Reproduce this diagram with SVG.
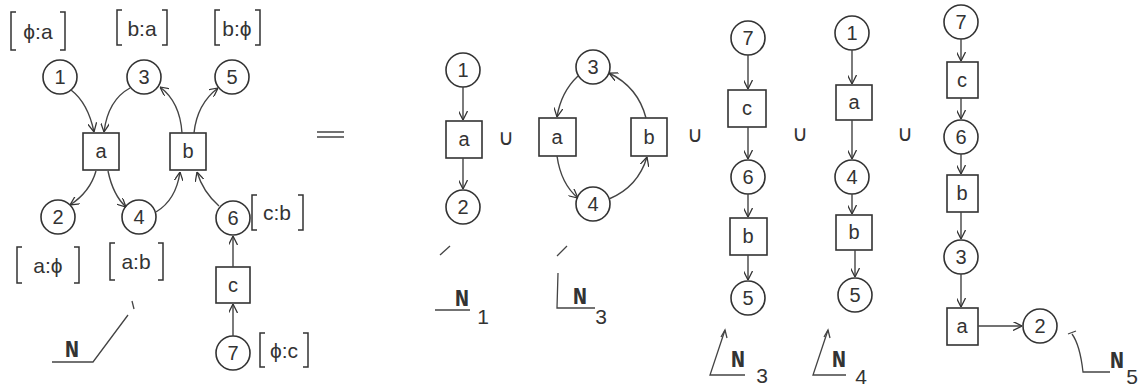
<svg xmlns="http://www.w3.org/2000/svg" width="1144" height="389" viewBox="0 0 1144 389">
<defs>
<marker id="ah" viewBox="0 0 10 10" refX="10" refY="5" markerWidth="9" markerHeight="9" markerUnits="userSpaceOnUse" orient="auto">
<path d="M0,0 L10,5 L0,10" fill="none" stroke="#333" stroke-width="1.4"/>
</marker>
<style>
.pl{fill:none;stroke:#333;stroke-width:1.6}
.tr{fill:none;stroke:#333;stroke-width:1.6}
.e{fill:none;stroke:#444;stroke-width:1.4;marker-end:url(#ah)}
.l{fill:none;stroke:#444;stroke-width:1.3}
.br{fill:none;stroke:#333;stroke-width:1.5}
.t{font-family:"Liberation Sans","DejaVu Sans",sans-serif;font-size:20px;fill:#333;text-anchor:middle;dominant-baseline:central}
.k{font-family:"DejaVu Sans",sans-serif;font-size:22px;fill:#333;text-anchor:middle;dominant-baseline:central}
.n{font-family:"Liberation Mono","DejaVu Sans Mono",monospace;font-weight:bold;font-size:24px;fill:#333;text-anchor:middle}
.s{font-family:"Liberation Sans","DejaVu Sans",sans-serif;font-size:21px;fill:#333;text-anchor:middle}
.u{font-family:"Liberation Sans","DejaVu Sans",sans-serif;font-size:21px;fill:#333;text-anchor:middle;dominant-baseline:central}
</style>
</defs>
<rect width="1144" height="389" fill="#fff"/>

<!-- Left net N -->
<g id="N-p1"><circle class="pl" cx="60" cy="77" r="17"/><text class="t" x="60" y="77">1</text></g>
<g id="N-p3"><circle class="pl" cx="144" cy="77" r="17"/><text class="t" x="144" y="77">3</text></g>
<g id="N-p5"><circle class="pl" cx="232" cy="77" r="17"/><text class="t" x="232" y="77">5</text></g>
<g id="N-ta"><rect class="tr" x="83" y="133" width="36" height="37"/><text class="t" x="101" y="151">a</text></g>
<g id="N-tb"><rect class="tr" x="170" y="133" width="36" height="37"/><text class="t" x="188" y="151">b</text></g>
<g id="N-p2"><circle class="pl" cx="58" cy="217" r="17"/><text class="t" x="58" y="217">2</text></g>
<g id="N-p4"><circle class="pl" cx="139" cy="217" r="17"/><text class="t" x="139" y="217">4</text></g>
<g id="N-p6"><circle class="pl" cx="233" cy="218" r="17"/><text class="t" x="233" y="218">6</text></g>
<g id="N-tc"><rect class="tr" x="216" y="267" width="34" height="36"/><text class="t" x="233" y="285">c</text></g>
<g id="N-p7"><circle class="pl" cx="233" cy="353" r="17"/><text class="t" x="233" y="353">7</text></g>

<g id="N-labels">
<path class="br" d="M16,12 L11,12 L11,50 L16,50 M60,12 L65,12 L65,50 L60,50"/>
<text class="u" x="38" y="31">ϕ:a</text>
<path class="br" d="M122,10 L117,10 L117,45 L122,45 M162,10 L167,10 L167,45 L162,45"/>
<text class="u" x="142" y="28">b:a</text>
<path class="br" d="M220,10 L215,10 L215,45 L220,45 M255,10 L260,10 L260,45 L255,45"/>
<text class="u" x="237" y="28">b:ϕ</text>
<path class="br" d="M22,247 L17,247 L17,283 L22,283 M74,247 L79,247 L79,283 L74,283"/>
<text class="u" x="48" y="265">a:ϕ</text>
<path class="br" d="M115,243 L110,243 L110,280 L115,280 M158,243 L163,243 L163,280 L158,280"/>
<text class="u" x="136" y="261">a:b</text>
<path class="br" d="M257,195 L252,195 L252,230 L257,230 M298,195 L303,195 L303,230 L298,230"/>
<text class="u" x="277" y="212">c:b</text>
<path class="br" d="M265,333 L260,333 L260,367 L265,367 M303,333 L308,333 L308,367 L303,367"/>
<text class="u" x="284" y="350">ϕ:c</text>
<text class="n" x="72" y="357">N</text>
<path class="l" d="M52,362 L93,362 L128,315"/>
<path class="l" d="M132,301 L134,309"/>
</g>

<g id="equals"><path class="l" d="M317,132 L344,132 M317,137 L344,137"/></g>

<!-- N1 -->
<g id="N1-p1"><circle class="pl" cx="463" cy="70" r="17"/><text class="t" x="463" y="70">1</text></g>
<g id="N1-ta"><rect class="tr" x="446" y="121" width="36" height="37"/><text class="t" x="464" y="139">a</text></g>
<g id="N1-p2"><circle class="pl" cx="463" cy="207" r="17"/><text class="t" x="463" y="207">2</text></g>
<g id="N1-label">
<path class="l" d="M440,255 L450,246"/>
<path class="l" d="M435,310 L470,310"/>
<text class="n" x="462" y="306">N</text>
<text class="s" x="483" y="324">1</text>
</g>

<text class="k" x="506" y="137">∪</text>

<!-- N3 (cycle) -->
<g id="N3a-p3"><circle class="pl" cx="593" cy="67" r="17"/><text class="t" x="593" y="67">3</text></g>
<g id="N3a-ta"><rect class="tr" x="539" y="118" width="37" height="38"/><text class="t" x="557" y="137">a</text></g>
<g id="N3a-tb"><rect class="tr" x="631" y="118" width="36" height="38"/><text class="t" x="649" y="137">b</text></g>
<g id="N3a-p4"><circle class="pl" cx="593" cy="204" r="17"/><text class="t" x="593" y="204">4</text></g>
<g id="N3a-label">
<path class="l" d="M557,256 L567,246"/>
<path class="l" d="M558,273 L557,308 L595,308"/>
<text class="n" x="580" y="304">N</text>
<text class="s" x="601" y="324">3</text>
</g>

<text class="k" x="695" y="134">∪</text>

<!-- N3 (chain) -->
<g id="N3b-p7"><circle class="pl" cx="748" cy="38" r="17"/><text class="t" x="748" y="38">7</text></g>
<g id="N3b-tc"><rect class="tr" x="728" y="90" width="38" height="37"/><text class="t" x="747" y="108">c</text></g>
<g id="N3b-p6"><circle class="pl" cx="748" cy="177" r="17"/><text class="t" x="748" y="177">6</text></g>
<g id="N3b-tb"><rect class="tr" x="730" y="218" width="37" height="37"/><text class="t" x="748" y="236">b</text></g>
<g id="N3b-p5"><circle class="pl" cx="748" cy="298" r="17"/><text class="t" x="748" y="298">5</text></g>
<g id="N3b-label">
<path class="l" d="M725,330 L710,375 L745,375"/>
<path class="l" d="M721,337 L725,330 L727,338"/>
<text class="n" x="738" y="367">N</text>
<text class="s" x="762" y="383">3</text>
</g>

<text class="k" x="800" y="133">∪</text>

<!-- N4 -->
<g id="N4-p1"><circle class="pl" cx="852" cy="33" r="17"/><text class="t" x="852" y="33">1</text></g>
<g id="N4-ta"><rect class="tr" x="836" y="85" width="36" height="35"/><text class="t" x="854" y="102">a</text></g>
<g id="N4-p4"><circle class="pl" cx="852" cy="177" r="17"/><text class="t" x="852" y="177">4</text></g>
<g id="N4-tb"><rect class="tr" x="836" y="215" width="36" height="35"/><text class="t" x="854" y="232">b</text></g>
<g id="N4-p5"><circle class="pl" cx="855" cy="295" r="17"/><text class="t" x="855" y="295">5</text></g>
<g id="N4-label">
<path class="l" d="M828,330 L813,375 L846,375"/>
<path class="l" d="M824,337 L828,330 L830,338"/>
<text class="n" x="839" y="367">N</text>
<text class="s" x="861" y="384">4</text>
</g>

<text class="k" x="905" y="133">∪</text>

<!-- N5 -->
<g id="N5-p7"><circle class="pl" cx="961" cy="22" r="17"/><text class="t" x="961" y="22">7</text></g>
<g id="N5-tc"><rect class="tr" x="947" y="62" width="31" height="36"/><text class="t" x="962" y="80">c</text></g>
<g id="N5-p6"><circle class="pl" cx="961" cy="137" r="17"/><text class="t" x="961" y="137">6</text></g>
<g id="N5-tb"><rect class="tr" x="947" y="175" width="31" height="37"/><text class="t" x="962" y="193">b</text></g>
<g id="N5-p3"><circle class="pl" cx="961" cy="257" r="17"/><text class="t" x="961" y="257">3</text></g>
<g id="N5-ta"><rect class="tr" x="947" y="308" width="31" height="37"/><text class="t" x="962" y="326">a</text></g>
<g id="N5-p2"><circle class="pl" cx="1040" cy="326" r="17"/><text class="t" x="1040" y="326">2</text></g>
<g id="N5-label">
<path class="l" d="M1068,334 L1076,331 M1072,334 Q1080,345 1083,372 L1110,372"/>
<text class="n" x="1117" y="368">N</text>
<text class="s" x="1132" y="384">5</text>
</g>

<!-- connectors -->
<g id="connectors">
<path class="e" d="M71,90 Q88,103 94,132"/>
<path class="e" d="M130,88 Q108,100 104,132"/>
<path class="e" d="M96,171 Q90,192 70,205"/>
<path class="e" d="M108,171 Q113,195 126,207"/>
<path class="e" d="M156,212 Q176,200 180,172"/>
<path class="e" d="M182,133 Q180,102 160,87"/>
<path class="e" d="M194,133 Q197,104 218,88"/>
<path class="e" d="M219,206 Q203,192 197,172"/>
<path class="e" d="M233,267 L233,236"/>
<path class="e" d="M233,336 L233,304"/>

<path class="e" d="M463,87 L463,120"/>
<path class="e" d="M463,158 L463,189"/>

<path class="e" d="M578,76 Q561,92 557,117"/>
<path class="e" d="M557,156 Q561,184 578,198"/>
<path class="e" d="M609,199 Q638,187 647,157"/>
<path class="e" d="M646,118 Q638,87 609,73"/>

<path class="e" d="M748,55 L748,89"/>
<path class="e" d="M748,127 L748,159"/>
<path class="e" d="M748,194 L748,217"/>
<path class="e" d="M748,255 L748,280"/>

<path class="e" d="M852,50 L852,84"/>
<path class="e" d="M852,120 L852,159"/>
<path class="e" d="M852,194 L852,214"/>
<path class="e" d="M855,250 L855,277"/>

<path class="e" d="M961,39 L961,61"/>
<path class="e" d="M961,98 L961,119"/>
<path class="e" d="M961,154 L961,174"/>
<path class="e" d="M961,212 L961,239"/>
<path class="e" d="M961,274 L961,307"/>
<path class="e" d="M978,326 L1022,326"/>
</g>
</svg>
